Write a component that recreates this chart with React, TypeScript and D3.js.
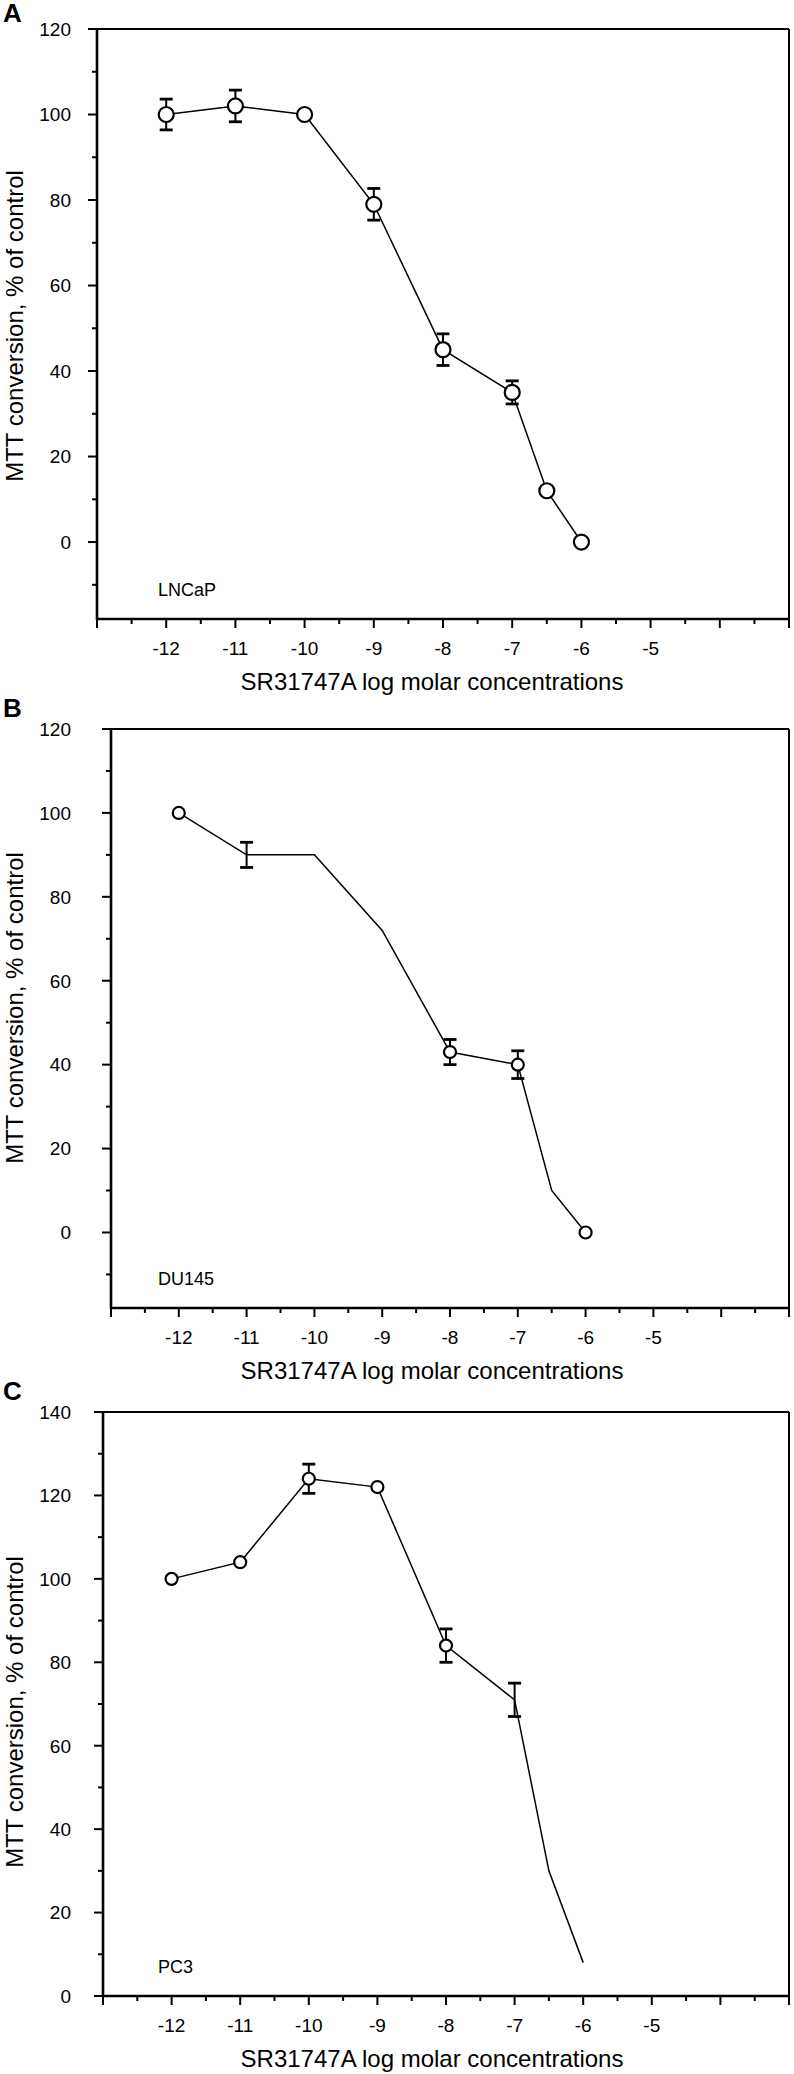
import React from "react";
import * as d3 from "d3";

// ---- data ----
const logConc = [-12, -11, -10, -9, -8, -7, -6.5, -6];
const xTickLabels = [-12, -11, -10, -9, -8, -7, -6, -5];

const lncapMean = [100, 102, 100, 79, 45, 35, 12, 0];
const lncapErr = [3.6, 3.7, 0, 3.7, 3.7, 2.7, 0, 0];
const lncapMarker = [true, true, true, true, true, true, true, true];

const du145Mean = [100, 90, 90, 72, 43, 40, 10, 0];
const du145Err = [0, 3, 0, 0, 3, 3.3, 0, 0];
const du145Marker = [true, false, false, false, true, true, false, true];

const pc3Mean = [100, 104, 124, 122, 84, 71, 30, 8];
const pc3Err = [0, 0, 3.5, 0, 4, 4, 0, 0];
const pc3Marker = [true, true, true, true, true, false, false, false];

const panelLetters = ["A", "B", "C"];
const cellLines = ["LNCaP", "DU145", "PC3"];
const xTitle = "SR31747A log molar concentrations";
const yTitle = "MTT conversion, % of control";

// ---- layout ----
const FONT = "'Liberation Sans', Arial, Helvetica, sans-serif";
const W = 794;
const H = 2074;

type PanelCfg = {
  letter: string;
  cell: string;
  mean: number[];
  err: number[];
  marker: boolean[];
  left: number;
  right: number;
  top: number;
  bottom: number;
  yDomain: [number, number];
  yMax: number;
  yMin: number;
  letterY: number;
  yTitleY: number;
  r: number;
};

const panels: PanelCfg[] = [
  {
    letter: panelLetters[0], cell: cellLines[0], mean: lncapMean, err: lncapErr, marker: lncapMarker,
    left: 97, right: 789, top: 29, bottom: 619, yDomain: [-18, 120], yMax: 120, yMin: -10,
    letterY: 22, yTitleY: 326, r: 7.5,
  },
  {
    letter: panelLetters[1], cell: cellLines[1], mean: du145Mean, err: du145Err, marker: du145Marker,
    left: 111, right: 789, top: 729, bottom: 1308, yDomain: [-18, 120], yMax: 120, yMin: -10,
    letterY: 717, yTitleY: 1008, r: 6,
  },
  {
    letter: panelLetters[2], cell: cellLines[2], mean: pc3Mean, err: pc3Err, marker: pc3Marker,
    left: 103, right: 789, top: 1412, bottom: 1996, yDomain: [0, 140], yMax: 140, yMin: 0,
    letterY: 1400, yTitleY: 1712, r: 6,
  },
];

function Panel({ p }: { p: PanelCfg }) {
  const x = d3.scaleLinear().domain([-13, -3]).range([p.left, p.right]);
  const y = d3.scaleLinear().domain(p.yDomain).range([p.bottom, p.top]);

  const yMajor = d3.range(Math.max(0, p.yMin), p.yMax + 1, 20);
  const yMinor = d3.range(p.yMin < 0 ? -10 : 10, p.yMax, 20);
  const xMajor = d3.range(-13, -2, 1);
  const xMinor = d3.range(-12.5, -3, 1);

  const pts = logConc.map((c, i) => ({ c, v: p.mean[i], e: p.err[i], m: p.marker[i] }));
  const line = d3
    .line<{ c: number; v: number }>()
    .x((d) => x(d.c))
    .y((d) => y(d.v));

  return (
    <g>
      <text x={3} y={p.letterY} fontFamily={FONT} fontWeight="bold" fontSize={26}>
        {p.letter}
      </text>
      {/* frame */}
      <line x1={p.left} x2={p.right} y1={p.top} y2={p.top} stroke="#000" strokeWidth={2} />
      <line x1={p.right} x2={p.right} y1={p.top} y2={p.bottom} stroke="#000" strokeWidth={2} />
      <line x1={p.left} x2={p.left} y1={p.top} y2={p.bottom + 1} stroke="#000" strokeWidth={2.6} />
      <line x1={p.left} x2={p.right} y1={p.bottom} y2={p.bottom} stroke="#000" strokeWidth={2.4} />
      {/* y ticks */}
      {yMajor.map((t) => (
        <g key={"ym" + t}>
          <line x1={p.left - 9} x2={p.left} y1={y(t)} y2={y(t)} stroke="#000" strokeWidth={2} />
          <text x={71} y={y(t)} dy="0.36em" textAnchor="end" fontFamily={FONT} fontSize={19}>
            {t}
          </text>
        </g>
      ))}
      {yMinor.map((t) => (
        <line key={"yn" + t} x1={p.left - 5} x2={p.left} y1={y(t)} y2={y(t)} stroke="#000" strokeWidth={2} />
      ))}
      {/* x ticks */}
      {xMajor.map((t) => (
        <line key={"xm" + t} x1={x(t)} x2={x(t)} y1={p.bottom} y2={p.bottom + 9} stroke="#000" strokeWidth={2} />
      ))}
      {xMinor.map((t) => (
        <line key={"xn" + t} x1={x(t)} x2={x(t)} y1={p.bottom} y2={p.bottom + 5} stroke="#000" strokeWidth={2} />
      ))}
      {xTickLabels.map((t) => (
        <text key={"xl" + t} x={x(t)} y={p.bottom + 36} textAnchor="middle" fontFamily={FONT} fontSize={19}>
          {t}
        </text>
      ))}
      <text x={432} y={p.bottom + 71} textAnchor="middle" fontFamily={FONT} fontSize={24}>
        {xTitle}
      </text>
      <text
        transform={`translate(23,${p.yTitleY}) rotate(-90)`}
        textAnchor="middle"
        fontFamily={FONT}
        fontSize={24}
      >
        {yTitle}
      </text>
      <text x={158} y={p.bottom - 23} fontFamily={FONT} fontSize={18}>
        {p.cell}
      </text>
      {/* error bars */}
      {pts
        .filter((d) => d.e > 0)
        .map((d, i) => {
          const cx = x(d.c);
          const y0 = y(d.v - d.e);
          const y1 = y(d.v + d.e);
          return (
            <g key={"e" + i} stroke="#000">
              <line x1={cx} x2={cx} y1={y0} y2={y1} strokeWidth={2} />
              <line x1={cx - 6.5} x2={cx + 6.5} y1={y0} y2={y0} strokeWidth={2.8} />
              <line x1={cx - 6.5} x2={cx + 6.5} y1={y1} y2={y1} strokeWidth={2.8} />
            </g>
          );
        })}
      <path d={line(pts) || ""} fill="none" stroke="#000" strokeWidth={1.5} />
      {pts
        .filter((d) => d.m)
        .map((d, i) => (
          <circle key={"c" + i} cx={x(d.c)} cy={y(d.v)} r={p.r} fill="#fff" stroke="#000" strokeWidth={2.2} />
        ))}
    </g>
  );
}

export default function App() {
  return (
    <svg
      width={W}
      height={H}
      viewBox={`0 0 ${W} ${H}`}
      style={{ position: "absolute", left: 0, top: 0, display: "block", background: "#fff" }}
    >
      <rect x={0} y={0} width={W} height={H} fill="#fff" />
      {panels.map((p) => (
        <Panel key={p.letter} p={p} />
      ))}
    </svg>
  );
}
